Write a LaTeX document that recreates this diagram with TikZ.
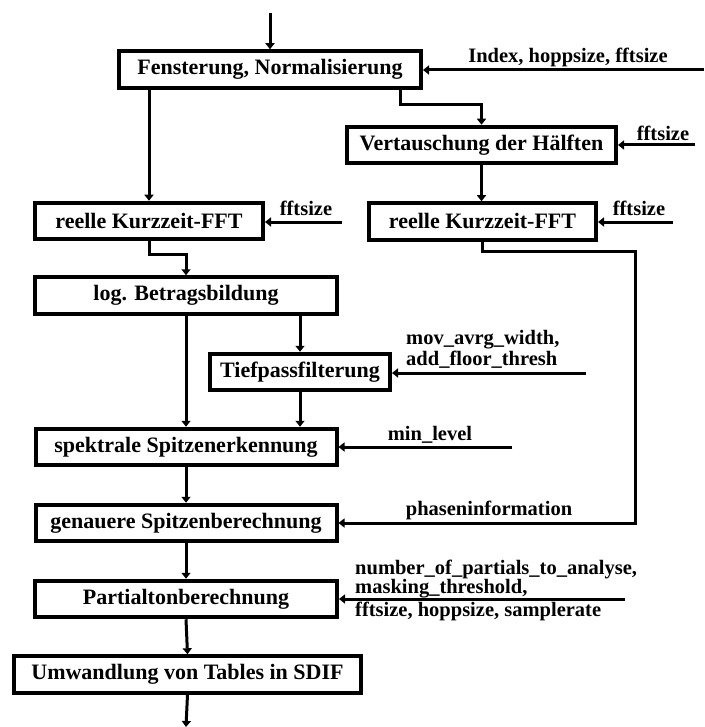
\documentclass[tikz,border=0pt]{standalone}
\usepackage{fontspec}
\setmainfont{Liberation Serif}
\usetikzlibrary{arrows.meta, calc}
\tikzset{
    etappe/.style={draw=black, line width=4pt, inner sep=0pt, minimum height=36.5pt, font=\fontsize{22}{24}\selectfont\bfseries},
    pfeil/.style={line width=3pt, -{Triangle[width=9pt,length=6pt]}},
    parameter/.style={inner sep=0pt, font=\fontsize{20.5}{21}\selectfont\bfseries}
}
\begin{document}
\begin{tikzpicture}[x=1pt, y=-1pt]
    \useasboundingbox (0,0) rectangle (704,727);
    % Verarbeitungsschritte
    \node[etappe, minimum width=302pt] (fenster) at (270,69.5) {Fensterung, Normalisierung};
    \node[etappe, minimum width=269pt] (tausch) at (481.5,145) {Vertauschung der Hälften};
    \node[etappe, minimum width=228pt] (fftlinks) at (149,221) {reelle Kurzzeit-FFT};
    \node[etappe, minimum width=227pt] (fftrechts) at (482.5,221.5) {reelle Kurzzeit-FFT};
    \node[etappe, minimum width=302pt] (betrag) at (186,295.5) {log. Betragsbildung};
    \node[etappe, minimum width=180pt] (tiefpass) at (300,372) {Tiefpassfilterung};
    \node[etappe, minimum width=301pt] (spitzen) at (186,447) {spektrale Spitzenerkennung};
    \node[etappe, minimum width=301pt] (genau) at (186,523) {genauere Spitzenberechnung};
    \node[etappe, minimum width=302pt] (partial) at (186,599) {Partialtonberechnung};
    \node[etappe, minimum width=347pt] (sdif) at (187.5,674.5) {Umwandlung von Tables in SDIF};
    % Signalfluss
    \coordinate (ein) at (270,13);
    \coordinate (aus) at (186,727);
    \coordinate (phase) at (635,251);
    \draw[pfeil] (ein) -- (fenster.north);
    \draw[pfeil] (fenster.south -| fftlinks.north) -- (fftlinks.north);
    \draw[pfeil] ([xshift=130pt]fenster.south) |- ([yshift=20pt]tausch.north) -- (tausch.north);
    \draw[pfeil] (tausch.south) -- (tausch.south |- fftrechts.north);
    \draw[pfeil] (fftlinks.south) |- ([yshift=21pt]betrag.north) -- (betrag.north);
    \draw[pfeil] (fftrechts.south) |- (phase) |- (genau.east);
    \draw[pfeil] (betrag.south) -- (spitzen.north);
    \draw[pfeil] (betrag.south -| tiefpass.north) -- (tiefpass.north);
    \draw[pfeil] (tiefpass.south) -- (tiefpass.south |- spitzen.north);
    \draw[pfeil] (spitzen.south) -- (genau.north);
    \draw[pfeil] (genau.south) -- (partial.north);
    \draw[pfeil] (partial.south) -- (sdif.north);
    \draw[pfeil] (sdif.south) -- (aus);
    % Parameter
    \coordinate (pFenster) at (704,70);
    \coordinate (pTausch) at (695,145);
    \coordinate (pFftLinks) at (342,222);
    \coordinate (pFftRechts) at (673,222);
    \coordinate (pTiefpass) at (586,373);
    \coordinate (pSpitzen) at (512,447);
    \coordinate (pPartial) at (625,599);
    \draw[pfeil] (pFenster) -- (pFenster -| fenster.east);
    \draw[pfeil] (pTausch) -- (pTausch -| tausch.east);
    \draw[pfeil] (pFftLinks) -- (pFftLinks -| fftlinks.east);
    \draw[pfeil] (pFftRechts) -- (pFftRechts -| fftrechts.east);
    \draw[pfeil] (pTiefpass) -- (pTiefpass -| tiefpass.east);
    \draw[pfeil] (pSpitzen) -- (pSpitzen -| spitzen.east);
    \draw[pfeil] (pPartial) -- (pPartial -| partial.east);
    \node[parameter] (lFenster) at (568,57) {Index, hoppsize, fftsize};
    \node[parameter] (lTausch) at (663,133) {fftsize};
    \node[parameter] (lFftLinks) at (306,208) {fftsize};
    \node[parameter] (lFftRechts) at (639,208) {fftsize};
    \node[parameter, anchor=west, align=left] (lTiefpass) at (406,349) {mov\_avrg\_width,\\add\_floor\_thresh};
    \node[parameter] (lSpitzen) at (430,435) {min\_level};
    \node[parameter] (lPhase) at (489,510) {phaseninformation};
    \node[parameter, anchor=west, align=left, font=\fontsize{20.5}{18}\selectfont\bfseries] (lPartialA) at (355,579) {number\_of\_partials\_to\_analyse,\\masking\_threshold,};
    \node[parameter, anchor=west] (lPartialB) at (355,611) {fftsize, hoppsize, samplerate};
\end{tikzpicture}
\end{document}
